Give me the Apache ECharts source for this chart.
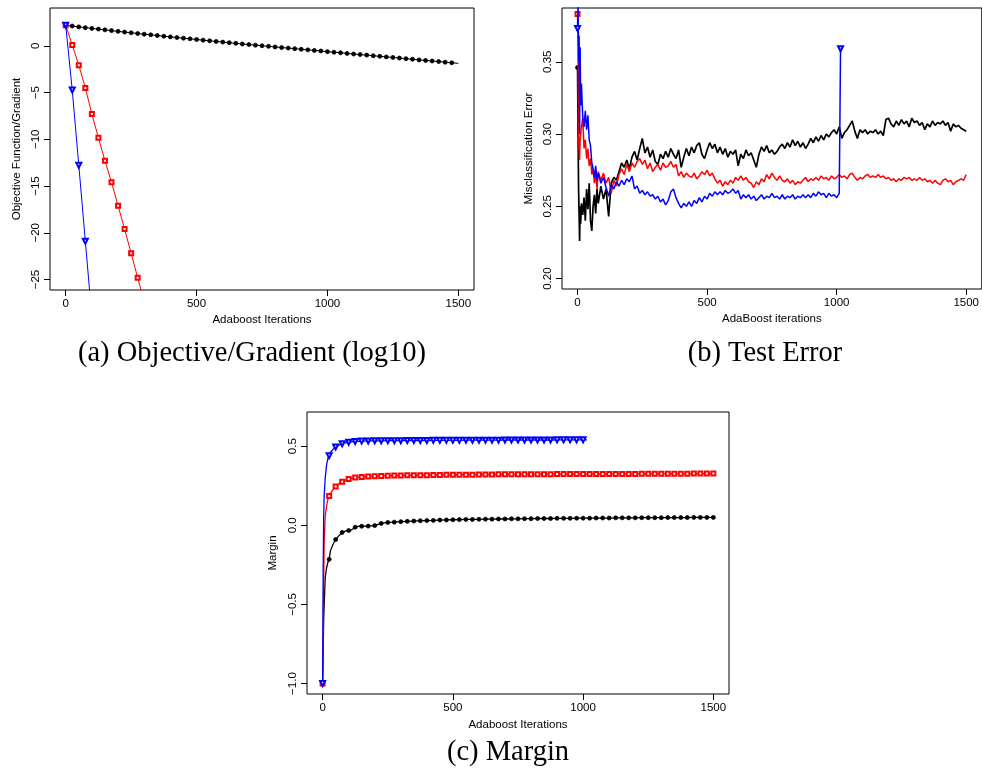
<!DOCTYPE html>
<html>
<head>
<meta charset="utf-8">
<script src="https://cdn.jsdelivr.net/npm/echarts@6/dist/echarts.min.js"></script>
<style>
  html, body { margin: 0; padding: 0; background: #fff; }
  #main { width: 982px; height: 770px; }
</style>
</head>
<body>
<div id="main"></div>
<script>
// (a) objective / gradient, one point every 25 iterations
var objIter = [0,25,50,75,100,125,150,175,200,225,250,275,300,325,350,375,400,425,450,475,
  500,525,550,575,600,625,650,675,700,725,750,775,800,825,850,875,900,925,950,975,
  1000,1025,1050,1075,1100,1125,1150,1175,1200,1225,1250,1275,1300,1325,1350,1375,1400,1425,1450,1475,1500];
var objBlack = [2.20,2.12,2.03,1.95,1.87,1.79,1.71,1.63,1.55,1.47,1.40,1.32,1.25,1.18,1.10,1.03,0.96,0.89,0.82,0.75,
  0.68,0.61,0.54,0.47,0.40,0.34,0.27,0.20,0.14,0.07,0.01,-0.05,-0.12,-0.18,-0.24,-0.30,-0.37,-0.43,-0.49,-0.55,
  -0.62,-0.68,-0.74,-0.81,-0.87,-0.93,-0.99,-1.06,-1.12,-1.18,-1.24,-1.31,-1.37,-1.43,-1.50,-1.56,-1.62,-1.68,-1.75,-1.81,-1.87];
var objRed = [2.20,0.10,-2.07,-4.50,-7.30,-9.84,-12.30,-14.60,-17.10,-19.60,-22.20,-24.80,-27.40];
var objBlue = [2.20,-4.72,-12.77,-20.90,-29.00];

// (b) test error
var testIter = [0,2,4,6,8,10,12,15,20,25,30,35,40,45,50,55,60,65,70,75,80,
  90,100,110,120,130,140,150,160,170,180,
  190,200,210,220,230,240,250,260,270,280,
  290,300,310,320,330,340,350,360,370,380,
  390,400,410,420,430,440,450,460,470,480,
  490,500,510,520,530,540,550,560,570,580,
  590,600,610,620,630,640,650,660,670,680,
  690,700,710,720,730,740,750,760,770,780,
  790,800,810,820,830,840,850,860,870,880,
  890,900,910,920,930,940,950,960,970,980,
  990,1000,1010,1020,1030,1040,1050,1060,1070,1080,
  1090,1100,1110,1120,1130,1140,1150,1160,1170,1180,
  1190,1200,1210,1220,1230,1240,1250,1260,1270,1280,
  1290,1300,1310,1320,1330,1340,1350,1360,1370,1380,
  1390,1400,1410,1420,1430,1440,1450,1460,1470,1480,
  1490,1500];
var testBlack = [0.346,0.300,0.262,0.244,0.226,0.250,0.238,0.252,0.244,0.256,0.240,0.262,0.248,0.266,0.240,0.233,0.250,0.258,0.245,0.262,0.252,
  0.264,0.255,0.262,0.243,0.266,0.270,0.268,0.274,0.280,0.277,
  0.282,0.276,0.284,0.288,0.282,0.290,0.297,0.287,0.291,0.284,
  0.289,0.281,0.279,0.286,0.283,0.288,0.284,0.290,0.286,0.283,
  0.289,0.277,0.284,0.290,0.285,0.291,0.287,0.292,0.294,0.286,
  0.283,0.289,0.294,0.290,0.293,0.287,0.291,0.286,0.290,0.284,
  0.288,0.286,0.289,0.278,0.286,0.283,0.289,0.285,0.287,0.282,
  0.277,0.286,0.291,0.288,0.292,0.287,0.289,0.286,0.288,0.291,
  0.293,0.290,0.294,0.291,0.296,0.292,0.295,0.291,0.294,0.290,
  0.293,0.297,0.294,0.298,0.295,0.299,0.296,0.300,0.298,0.301,
  0.303,0.300,0.305,0.297,0.301,0.303,0.306,0.309,0.302,0.297,
  0.303,0.301,0.303,0.300,0.302,0.301,0.303,0.300,0.302,0.299,
  0.310,0.311,0.307,0.305,0.309,0.306,0.310,0.307,0.309,0.305,
  0.311,0.308,0.309,0.306,0.308,0.303,0.307,0.305,0.309,0.306,
  0.308,0.307,0.309,0.306,0.308,0.302,0.307,0.305,0.306,0.304,
  0.303,0.302];
var testRed = [0.383,0.360,0.300,0.290,0.282,0.296,0.300,0.305,0.311,0.290,0.296,0.283,0.290,0.278,0.283,0.272,0.276,0.266,0.272,0.262,0.274,
  0.268,0.273,0.266,0.270,0.259,0.268,0.264,0.272,0.276,0.272,
  0.279,0.274,0.280,0.277,0.281,0.283,0.279,0.282,0.276,0.280,
  0.274,0.277,0.279,0.275,0.280,0.277,0.278,0.281,0.277,0.279,
  0.271,0.274,0.270,0.273,0.271,0.270,0.273,0.269,0.271,0.274,
  0.272,0.275,0.271,0.273,0.269,0.266,0.268,0.264,0.267,0.265,
  0.268,0.266,0.270,0.268,0.271,0.268,0.270,0.267,0.266,0.263,
  0.267,0.265,0.269,0.267,0.272,0.269,0.273,0.270,0.268,0.271,
  0.268,0.267,0.269,0.266,0.268,0.265,0.267,0.266,0.268,0.270,
  0.267,0.269,0.268,0.270,0.268,0.271,0.269,0.270,0.268,0.271,
  0.269,0.270,0.272,0.270,0.271,0.269,0.272,0.273,0.270,0.268,
  0.270,0.269,0.271,0.272,0.270,0.271,0.270,0.272,0.270,0.271,
  0.269,0.270,0.268,0.269,0.267,0.269,0.268,0.270,0.269,0.270,
  0.268,0.269,0.268,0.270,0.268,0.269,0.267,0.268,0.266,0.268,
  0.266,0.265,0.268,0.269,0.267,0.268,0.265,0.267,0.268,0.269,
  0.268,0.272];
var testBlue = [0.373,0.392,0.350,0.368,0.300,0.360,0.320,0.335,0.312,0.305,0.316,0.303,0.313,0.296,0.292,0.280,0.276,0.270,0.278,0.268,0.273,
  0.266,0.270,0.263,0.257,0.265,0.262,0.267,0.264,0.268,0.265,
  0.269,0.267,0.271,0.262,0.264,0.259,0.261,0.258,0.260,0.257,
  0.258,0.255,0.257,0.253,0.255,0.251,0.254,0.260,0.262,0.256,
  0.252,0.249,0.252,0.250,0.253,0.250,0.254,0.252,0.256,0.253,
  0.257,0.255,0.259,0.257,0.260,0.258,0.260,0.258,0.261,0.259,
  0.260,0.262,0.259,0.261,0.255,0.258,0.256,0.258,0.255,0.257,
  0.254,0.256,0.258,0.255,0.257,0.256,0.259,0.256,0.257,0.255,
  0.258,0.255,0.257,0.256,0.258,0.255,0.257,0.256,0.258,0.256,
  0.258,0.256,0.259,0.257,0.260,0.258,0.259,0.256,0.259,0.257,
  0.258,0.256,0.259,
  0.258,0.359];
var testBlueIter = testIter.slice(0, 114).concat([1015, 1015]);

// (c) margin
var marginIter = [0,2,4,6,10,15,20,25,30,40,50,60,75,90,100,110,125,140,150,175,
  200,225,250,275,300,325,350,375,400,425,450,475,500,525,550,575,600,625,650,675,
  700,725,750,775,800,825,850,875,900,925,950,975,1000,
  1025,1050,1075,1100,1125,1150,1175,1200,1225,1250,1275,1300,1325,1350,1375,1400,1425,1450,1475,1500];
var marginBlack = [-1.0,-0.80,-0.60,-0.50,-0.33,-0.27,-0.235,-0.215,-0.16,-0.12,-0.09,-0.07,-0.045,-0.035,-0.033,-0.030,-0.012,-0.005,-0.006,-0.005,
  -0.002,0.012,0.018,0.020,0.023,0.025,0.027,0.029,0.030,0.031,0.033,0.034,0.035,0.036,0.037,0.037,0.038,0.039,0.039,0.040,
  0.040,0.041,0.041,0.042,0.042,0.043,0.043,0.043,0.044,0.044,0.044,0.045,0.045,
  0.045,0.046,0.046,0.046,0.047,0.047,0.047,0.047,0.048,0.048,0.048,0.048,0.049,0.049,0.049,0.049,0.050,0.050,0.050,0.050];
var marginRed = [-1.0,-0.70,-0.35,-0.10,0.06,0.12,0.165,0.185,0.20,0.225,0.245,0.26,0.275,0.287,0.292,0.296,0.302,0.305,0.306,0.308,
  0.310,0.312,0.313,0.314,0.315,0.316,0.316,0.317,0.317,0.318,0.318,0.319,0.319,0.320,0.320,0.320,0.321,0.321,0.321,0.322,
  0.322,0.322,0.322,0.323,0.323,0.323,0.323,0.323,0.324,0.324,0.324,0.324,0.324,
  0.324,0.324,0.325,0.325,0.325,0.325,0.325,0.325,0.326,0.326,0.326,0.326,0.326,0.326,0.326,0.326,0.327,0.327,0.327,0.327];
var marginBlue = [-1.0,-0.30,0.05,0.19,0.30,0.38,0.42,0.44,0.46,0.48,0.495,0.505,0.515,0.522,0.525,0.527,0.530,0.531,0.532,0.533,
  0.534,0.534,0.535,0.535,0.535,0.536,0.536,0.536,0.536,0.537,0.537,0.537,0.537,0.537,0.538,0.538,0.538,0.538,0.538,0.538,
  0.539,0.539,0.539,0.539,0.539,0.539,0.539,0.539,0.540,0.540,0.540,0.540,0.540,
  0.540];
var marginBlueIter = marginIter.slice(0, 53).concat([1015]);

var xTicks = [0, 500, 1000, 1500];
var objTicks = [-25, -20, -15, -10, -5, 0];
var testTicks = [0.20, 0.25, 0.30, 0.35];
var marginTicks = [-1.0, -0.5, 0.0, 0.5];

var SANS = '"Liberation Sans", Arial, sans-serif';
var SERIF = '"Liberation Serif", "Times New Roman", serif';

function pairs(xs, ys) {
  return ys.map(function (y, i) { return [xs[i], y]; });
}
function minus(s) { return String(s).replace('-', '\u2212'); }

function xAxisOf(g, name, gap) {
  return {
    type: 'value', gridIndex: g, min: -60, max: 1560,
    name: name, nameLocation: 'middle', nameGap: gap,
    nameTextStyle: { fontSize: 11.5, color: '#000', fontFamily: SANS },
    axisLine: { show: false, onZero: false },
    axisTick: { show: true, inside: false, length: 6, customValues: xTicks, lineStyle: { color: '#000', width: 1 } },
    axisLabel: { customValues: xTicks, fontSize: 11.5, color: '#000', fontFamily: SANS, margin: 8,
      formatter: function (v) { return String(v); } },
    splitLine: { show: false }
  };
}
function yAxisOf(g, name, gap, min, max, ticks, fmt) {
  return {
    type: 'value', gridIndex: g, min: min, max: max,
    name: name, nameLocation: 'middle', nameGap: gap,
    nameTextStyle: { fontSize: 11.5, color: '#000', fontFamily: SANS },
    axisLine: { show: false, onZero: false },
    axisTick: { show: true, inside: false, length: 6, customValues: ticks, lineStyle: { color: '#000', width: 1 } },
    axisLabel: { customValues: ticks, rotate: 90, fontSize: 11.5, color: '#000', fontFamily: SANS, margin: 8, formatter: fmt },
    splitLine: { show: false }
  };
}

function every25(sym) {
  return function (v) { return v[0] % 25 === 0 ? sym : 'none'; };
}

function lineSeries(g, data, color, rotate, size, width, symFn, z) {
  return {
    type: 'line', xAxisIndex: g, yAxisIndex: g, data: data,
    symbol: symFn, symbolSize: size, symbolRotate: rotate,
    showSymbol: true, showAllSymbol: true, clip: true, z: z,
    lineStyle: { color: color, width: width },
    itemStyle: { color: color, borderColor: color, borderWidth: 0.8 },
    emphasis: { disabled: true },
    animation: false
  };
}

var chart = echarts.init(document.getElementById('main'));
chart.setOption({
  backgroundColor: '#fff',
  animation: false,
  grid: [
    { left: 50, top: 8, width: 424, height: 282, show: true, borderColor: '#000', borderWidth: 1, backgroundColor: 'transparent' },
    { left: 562, top: 8, width: 424, height: 281, show: true, borderColor: '#000', borderWidth: 1, backgroundColor: 'transparent' },
    { left: 307, top: 412, width: 422, height: 282, show: true, borderColor: '#000', borderWidth: 1, backgroundColor: 'transparent' }
  ],
  xAxis: [
    xAxisOf(0, 'Adaboost Iterations', 24),
    xAxisOf(1, 'AdaBoost iterations', 24),
    xAxisOf(2, 'Adaboost Iterations', 25)
  ],
  yAxis: [
    yAxisOf(0, 'Objective Function/Gradient', 27, -26.12, 4.05, objTicks, function (v) { return minus(v); }),
    yAxisOf(1, 'Misclassification Error', 27, 0.1928, 0.3872, testTicks, function (v) { return v.toFixed(2); }),
    yAxisOf(2, 'Margin', 28, -1.066, 0.716, marginTicks, function (v) { return minus(v.toFixed(1)); })
  ],
  series: [
    lineSeries(0, pairs(objIter, objBlack), '#000000', 0, 4, 1, function (v) { return v[0] < 1500 ? 'circle' : 'none'; }, 2),
    lineSeries(0, pairs(objIter, objRed), '#ff0000', 0, 4, 1, 'emptyRect', 3),
    lineSeries(0, pairs(objIter, objBlue), '#0000ff', 180, 5, 1, 'emptyTriangle', 4),

    lineSeries(1, pairs(testIter, testBlack), '#000000', 0, 4, 1.7, function (v, p) { return p.dataIndex === 0 ? 'circle' : 'none'; }, 2),
    lineSeries(1, pairs(testIter, testRed), '#ff0000', 0, 4, 1.5, function (v, p) { return p.dataIndex === 0 ? 'emptyRect' : 'none'; }, 3),
    lineSeries(1, pairs(testBlueIter, testBlue), '#0000ff', 180, 5, 1.5, function (v, p) { return (p.dataIndex === 0 || p.dataIndex === testBlue.length - 1) ? 'emptyTriangle' : 'none'; }, 4),

    lineSeries(2, pairs(marginIter, marginBlack), '#000000', 0, 4, 1.3, every25('circle'), 2),
    lineSeries(2, pairs(marginIter, marginRed), '#ff0000', 0, 4, 1.3, every25('emptyRect'), 3),
    lineSeries(2, pairs(marginBlueIter, marginBlue), '#0000ff', 180, 5, 1.3, every25('emptyTriangle'), 4)
  ],
  graphic: [
    { type: 'text', style: { x: 252, y: 354, text: '(a) Objective/Gradient (log10)', textAlign: 'center', textVerticalAlign: 'middle', font: '28.5px ' + SERIF, fill: '#000' } },
    { type: 'text', style: { x: 765, y: 354, text: '(b) Test Error', textAlign: 'center', textVerticalAlign: 'middle', font: '28.5px ' + SERIF, fill: '#000' } },
    { type: 'text', style: { x: 508, y: 753, text: '(c) Margin', textAlign: 'center', textVerticalAlign: 'middle', font: '28.5px ' + SERIF, fill: '#000' } }
  ]
});
</script>
</body>
</html>
